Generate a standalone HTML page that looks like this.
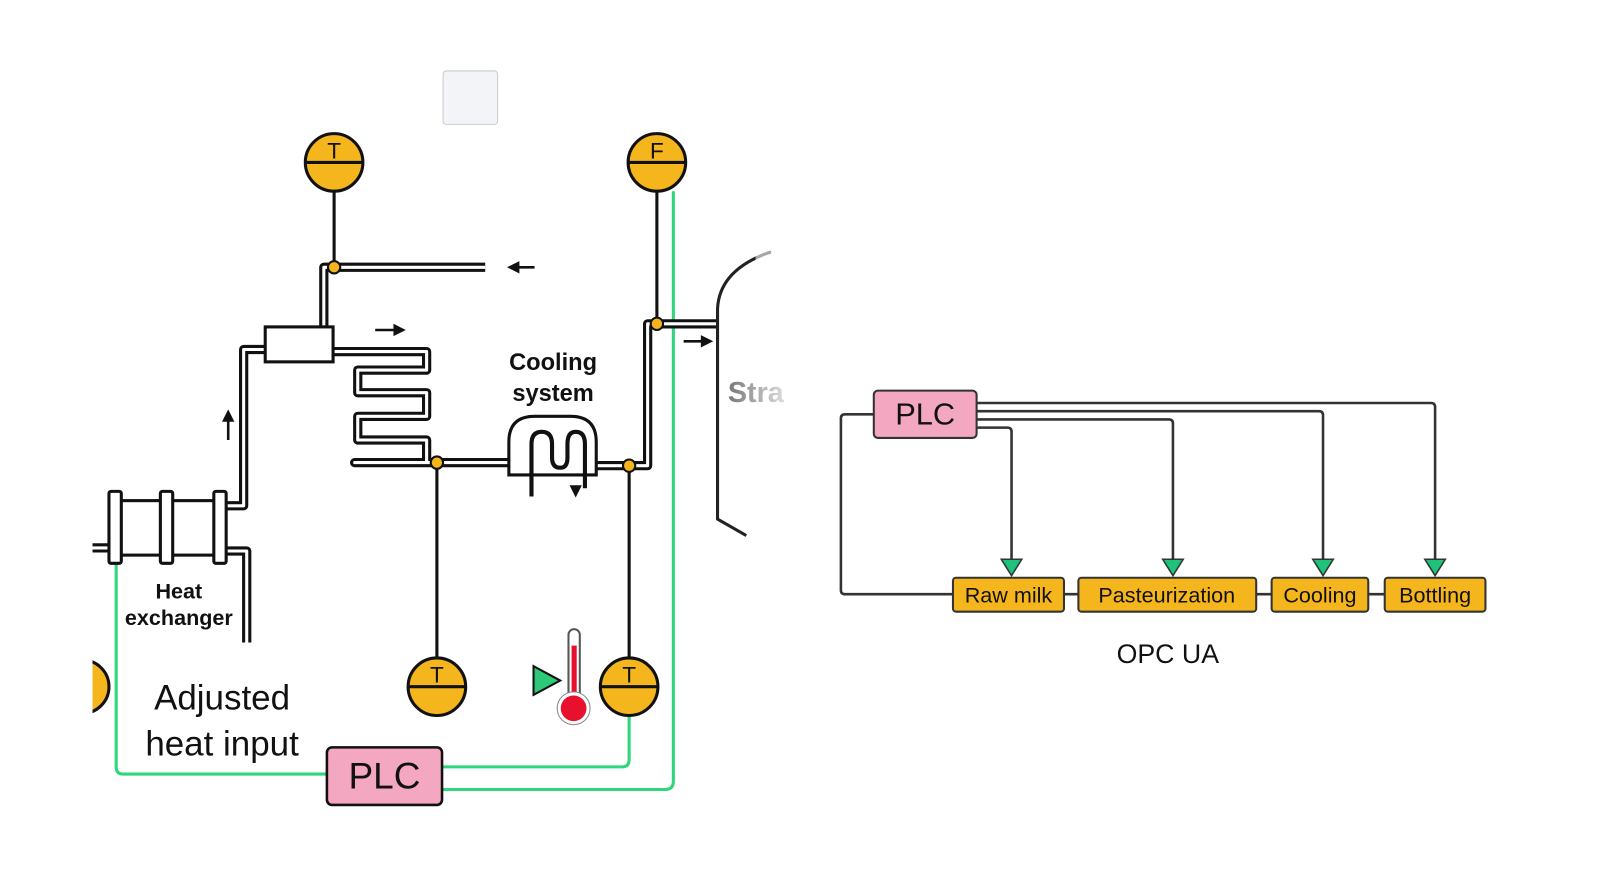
<!DOCTYPE html>
<html><head><style>html,body{margin:0;padding:0;background:#fff}svg{display:block}text{font-family:"Liberation Sans",sans-serif}</style></head>
<body>
<svg width="1610" height="878" viewBox="0 0 1610 878" xmlns="http://www.w3.org/2000/svg">
<defs>
<linearGradient id="fade" x1="0" x2="1"><stop offset="0" stop-color="#777"/><stop offset="1" stop-color="#ddd"/></linearGradient>
</defs>
<g transform="scale(1.028)">
<rect x="431" y="69" width="53" height="52" rx="3" fill="#f3f4f8" stroke="#ccc"/>
<g fill="none" stroke="#2fd67a" stroke-width="3">
<path d="M655 186 V760 Q655 768 647 768 H430"/>
<path d="M612 697 V739 Q612 746 605 746 H430"/>
<path d="M113 548 V746 Q113 753 120 753 H318"/>
</g>
<g stroke="#111" stroke-width="3" fill="none">
<path d="M325 186 V260"/><path d="M639 186 V315"/>
<path d="M425 450 V640"/><path d="M612 453 V640"/>
</g>
<g fill="none" stroke-linejoin="round">
<g stroke="#111" stroke-width="9">
<path d="M472 260 H315 V318"/>
<path d="M258 340 H237 V492 H220"/>
<path d="M324 342 H415 V360 H348 V382 H415 V405 H348 V428 H415 V450 H345 V450 H495"/>
<path d="M580 453 H630 V315 H698"/>
<path d="M220 536 H240 V625"/>
<path d="M90 533 H106"/>
</g>
<g stroke="#fff" stroke-width="3">
<path d="M472 260 H315 V318"/>
<path d="M258 340 H237 V492 H220"/>
<path d="M324 342 H415 V360 H348 V382 H415 V405 H348 V428 H415 V450 H345 V450 H495"/>
<path d="M580 453 H630 V315 H698"/>
<path d="M220 536 H240 V625"/>
<path d="M90 533 H106"/>
</g>
</g>
<rect x="258" y="318" width="66" height="34" fill="#fff" stroke="#111" stroke-width="3"/>
<rect x="116" y="487" width="94" height="53" fill="#fff" stroke="#111" stroke-width="3"/>
<g fill="#fff" stroke="#111" stroke-width="3">
<rect x="106" y="478" width="12" height="70" rx="2"/>
<rect x="156" y="478" width="12" height="70" rx="2"/>
<rect x="208" y="478" width="12" height="70" rx="2"/>
</g>
<text x="174" y="582" font-size="21" font-weight="600" text-anchor="middle" fill="#111">Heat</text>
<text x="174" y="608" font-size="21" font-weight="600" text-anchor="middle" fill="#111">exchanger</text>
<path d="M495 462 V430 Q495 405 520 405 H555 Q580 405 580 430 V462 Z" fill="#fff" stroke="#111" stroke-width="3"/>
<path d="M517 483 V432 Q517 420 527 420 Q537 420 537 432 V445 Q537 455 545 455 Q552 455 552 445 V432 Q552 420 560 420 Q569 420 569 432 V475" fill="none" stroke="#111" stroke-width="4"/>
<path d="M554 472 L566 472 L560 484 Z" fill="#111"/>
<text x="538" y="360" font-size="23" font-weight="bold" text-anchor="middle" fill="#111">Cooling</text>
<text x="538" y="390" font-size="23" font-weight="bold" text-anchor="middle" fill="#111">system</text>
<path d="M750 245 Q700 262 698 300 V505 L726 521" fill="none" stroke="#222" stroke-width="3"/>
<rect x="735" y="235" width="30" height="300" fill="#fff" opacity="0.6"/>
<text x="708" y="391" font-size="28" font-weight="bold" fill="url(#fade)">Stra</text>
<g stroke="#111" stroke-width="2.5" fill="#111">
<path d="M520 260 H500"/><path d="M496 260 l8 -4 v8z"/>
<path d="M365 321 H387"/><path d="M392 321 l-8 -4 v8z"/>
<path d="M665 332 H686"/><path d="M691 332 l-8 -4 v8z"/>
<path d="M222 428 V406"/><path d="M222 401 l-4 8 h8z"/>
</g>
<g fill="#f5b51c" stroke="#111" stroke-width="2">
<circle cx="325" cy="260" r="6"/><circle cx="639" cy="315" r="6"/>
<circle cx="425" cy="450" r="6"/><circle cx="612" cy="453" r="6"/>
</g>
<g stroke="#111" stroke-width="3">
<circle cx="325" cy="158" r="28" fill="#f5b51c"/><path d="M297 158 H353"/>
<circle cx="639" cy="158" r="28" fill="#f5b51c"/><path d="M611 158 H667"/>
<circle cx="425" cy="668" r="28" fill="#f5b51c"/><path d="M397 668 H453"/>
<circle cx="612" cy="668" r="28" fill="#f5b51c"/><path d="M584 668 H640"/>
<circle cx="80" cy="668" r="26" fill="#f5b51c"/>
</g>
<rect x="0" y="630" width="90" height="80" fill="#fff"/>
<g font-size="22" text-anchor="middle" fill="#111">
<text x="325" y="154">T</text><text x="639" y="154">F</text>
<text x="425" y="664">T</text><text x="612" y="664">T</text>
</g>
<rect x="553" y="612" width="11" height="80" rx="5.5" fill="#fff" stroke="#555" stroke-width="2"/>
<rect x="556" y="628" width="5" height="62" fill="#e8112d"/>
<circle cx="558" cy="689" r="14" fill="#e8112d" stroke="#fff" stroke-width="3"/>
<circle cx="558" cy="689" r="16" fill="none" stroke="#888" stroke-width="1"/>
<path d="M519 648 L545 662 L519 676 Z" fill="#2dc978" stroke="#111" stroke-width="2"/>
<text x="216" y="690" font-size="34" text-anchor="middle" fill="#111">Adjusted</text>
<text x="216" y="735" font-size="34" text-anchor="middle" fill="#111">heat input</text>
<rect x="318" y="727" width="112" height="56" rx="5" fill="#f4a7c0" stroke="#111" stroke-width="2.5"/>
<text x="374" y="767" font-size="36" text-anchor="middle" fill="#111">PLC</text>
<g fill="none" stroke="#333" stroke-width="2.5">
<path d="M950 392 H1392 Q1396 392 1396 396 V545"/>
<path d="M950 400 H1283 Q1287 400 1287 404 V545"/>
<path d="M950 408 H1137 Q1141 408 1141 412 V545"/>
<path d="M950 416 H980 Q984 416 984 420 V545"/>
<path d="M850 403 H822 Q818 403 818 407 V574 Q818 578 822 578 H927"/>
<path d="M1035 578 H1049 M1222 578 H1237 M1331 578 H1347"/>
</g>
<g fill="#1fc27a" stroke="#333" stroke-width="1.5">
<path d="M974 544 h20 l-10 16z"/><path d="M1131 544 h20 l-10 16z"/>
<path d="M1277 544 h20 l-10 16z"/><path d="M1386 544 h20 l-10 16z"/>
</g>
<rect x="850" y="380" width="100" height="46" rx="4" fill="#f4a7c0" stroke="#333" stroke-width="2"/>
<text x="900" y="413" font-size="30" text-anchor="middle" fill="#111">PLC</text>
<g fill="#f5b51c" stroke="#333" stroke-width="2">
<rect x="927" y="562" width="108" height="33" rx="3"/>
<rect x="1049" y="562" width="173" height="33" rx="3"/>
<rect x="1237" y="562" width="94" height="33" rx="3"/>
<rect x="1347" y="562" width="98" height="33" rx="3"/>
</g>
<g font-size="21" text-anchor="middle" fill="#111">
<text x="981" y="586">Raw milk</text><text x="1135" y="586">Pasteurization</text>
<text x="1284" y="586">Cooling</text><text x="1396" y="586">Bottling</text>
</g>
<text x="1136" y="645" font-size="26" text-anchor="middle" fill="#111">OPC UA</text>
</g>
</svg>
</body></html>
